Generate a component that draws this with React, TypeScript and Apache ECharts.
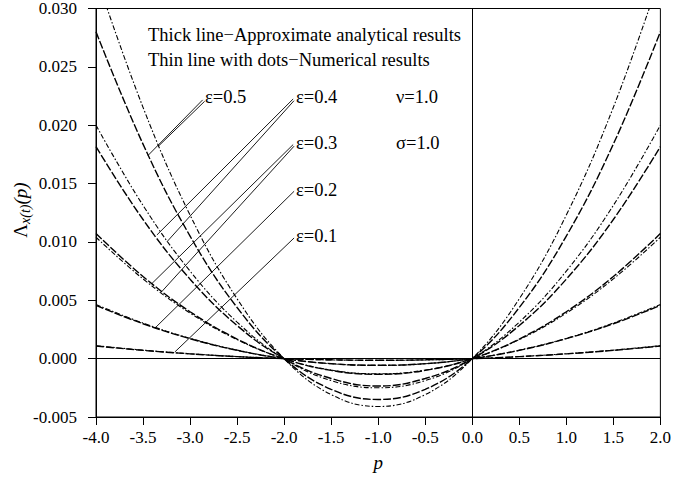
import React, { useEffect, useRef } from "react";
import * as echarts from "echarts";

const pValues = [-4.0, -3.5, -3.0, -2.5, -2.0, -1.5, -1.0, -0.5, 0.0, 0.5, 1.0, 1.5, 2.0];

// Thick line: approximate analytical results
const anaEps01 = [0.00108, 0.00071, 0.00041, 0.00017, 0, -0.0001, -0.00014, -0.0001, 0, 0.00017, 0.00041, 0.00071, 0.00108];
const anaEps02 = [0.00456, 0.00299, 0.00171, 0.00071, 0, -0.00043, -0.00057, -0.00043, 0, 0.00071, 0.00171, 0.00299, 0.00456];
const anaEps03 = [0.01072, 0.00704, 0.00402, 0.00168, 0, -0.00101, -0.00134, -0.00101, 0, 0.00168, 0.00402, 0.00704, 0.01072];
const anaEps04 = [0.01816, 0.01192, 0.00681, 0.00284, 0, -0.0017, -0.00235, -0.0017, 0, 0.00284, 0.00681, 0.01192, 0.01816];
const anaEps05 = [0.028, 0.01838, 0.0105, 0.00438, 0, -0.00263, -0.0035, -0.00263, 0, 0.00438, 0.0105, 0.01838, 0.028];

// Thin line with dots: numerical results
const numEps01 = [0.00111, 0.00073, 0.00042, 0.00018, 0, -0.00011, -0.00015, -0.00011, 0, 0.00018, 0.00042, 0.00073, 0.00111];
const numEps02 = [0.00464, 0.00305, 0.00174, 0.00073, 0, -0.00044, -0.00058, -0.00044, 0, 0.00073, 0.00174, 0.00305, 0.00464];
const numEps03 = [0.0104, 0.00683, 0.0039, 0.00163, 0, -0.00098, -0.0013, -0.00098, 0, 0.00163, 0.0039, 0.00683, 0.0104];
const numEps04 = [0.02, 0.01313, 0.0075, 0.00313, 0, -0.00188, -0.0025, -0.00188, 0, 0.00313, 0.0075, 0.01313, 0.02];
const numEps05 = [0.0328, 0.02153, 0.0123, 0.00513, 0, -0.00308, -0.0041, -0.00308, 0, 0.00513, 0.0123, 0.02153, 0.0328];

const epsLabels = ["ε=0.5", "ε=0.4", "ε=0.3", "ε=0.2", "ε=0.1"];
const paramLabels = ["ν=1.0", "σ=1.0"];
const noteLines = ["Thick line−Approximate analytical results", "Thin line with dots−Numerical results"];

// Leader lines (data coordinates): [start p, start value, end p, end value]
const leaders = [
  [-2.866, 0.02217, -3.447, 0.01741],
  [-2.845, 0.02205, -3.341, 0.01817],
  [-1.904, 0.02225, -3.352, 0.0106],
  [-1.895, 0.0221, -3.246, 0.01001],
  [-1.904, 0.01834, -3.405, 0.00644],
  [-1.895, 0.0182, -3.299, 0.00576],
  [-1.894, 0.01434, -3.373, 0.00262],
  [-1.894, 0.01034, -3.162, 0.00057],
];

const FONT = "Liberation Serif";

export default function App() {
  const ref = useRef<HTMLDivElement>(null);
  useEffect(() => {
    document.body.style.margin = "0";
    const chart = echarts.init(ref.current!, null, { renderer: "svg" });
    const pair = (arr: number[]) => pValues.map((p, i) => [p, arr[i]]);
    const anaStyle = { color: "#000", width: 1.4, type: [8, 2] };
    const numStyle = { color: "#000", width: 1.1, type: [5, 2, 1.5, 2] };
    const anaSeries = [anaEps01, anaEps02, anaEps03, anaEps04, anaEps05].map((d) => ({
      type: "line",
      data: pair(d),
      smooth: 0.4,
      showSymbol: false,
      lineStyle: anaStyle,
      silent: true,
    }));
    const numSeries = [numEps01, numEps02, numEps03, numEps04, numEps05].map((d) => ({
      type: "line",
      data: pair(d),
      smooth: 0.4,
      showSymbol: false,
      lineStyle: numStyle,
      silent: true,
    }));
    const refSeries = {
      type: "line",
      data: [],
      silent: true,
      markLine: {
        silent: true,
        symbol: ["none", "none"],
        label: { show: false },
        lineStyle: { color: "#000", width: 1, type: "solid" },
        data: [
          { xAxis: 0 },
          { yAxis: 0 },
          ...leaders.map((l) => [{ coord: [l[0], l[1]] }, { coord: [l[2], l[3]], lineStyle: { width: 0.9 } }]),
        ],
      },
    };
    const txt = (text: string, x: number, y: number, size = 18.5) => ({
      type: "text",
      x,
      y,
      style: { text, fontFamily: FONT, fontSize: size, fill: "#000", verticalAlign: "middle", align: "left" },
    });
    chart.setOption({
      animation: false,
      textStyle: { fontFamily: FONT, color: "#000" },
      grid: { left: 96, right: 11, top: 6, bottom: 63, show: true, borderColor: "#000", borderWidth: 1 },
      xAxis: {
        type: "value",
        min: -4,
        max: 2,
        interval: 0.5,
        name: "p",
        nameLocation: "middle",
        nameGap: 36,
        nameTextStyle: { fontFamily: FONT, fontSize: 19, fontStyle: "italic", color: "#000" },
        axisLine: { show: true, onZero: false, lineStyle: { color: "#000" } },
        axisTick: { show: true, inside: false, length: 8, lineStyle: { color: "#000" } },
        axisLabel: { fontFamily: FONT, fontSize: 17, color: "#000", margin: 12, formatter: (v: number) => v.toFixed(1) },
        splitLine: { show: false },
      },
      yAxis: {
        type: "value",
        min: -0.005,
        max: 0.03,
        interval: 0.005,
        axisLine: { show: true, onZero: false, lineStyle: { color: "#000" } },
        axisTick: { show: true, inside: false, length: 8, lineStyle: { color: "#000" } },
        axisLabel: { fontFamily: FONT, fontSize: 17, color: "#000", margin: 19, formatter: (v: number) => v.toFixed(3) },
        splitLine: { show: false },
      },
      series: [...anaSeries, ...numSeries, refSeries],
      graphic: [
        txt(noteLines[0], 148, 35),
        txt(noteLines[1], 148, 60),
        txt(epsLabels[0], 205, 97),
        txt(epsLabels[1], 296, 97),
        txt(epsLabels[2], 296, 143),
        txt(epsLabels[3], 296, 190),
        txt(epsLabels[4], 296, 236),
        txt(paramLabels[0], 396, 97),
        txt(paramLabels[1], 396, 143),
        {
          type: "text",
          x: 20,
          y: 210,
          rotation: Math.PI / 2,
          style: {
            text: "{a|Λ}{b|x(t)}{c|(p)}",
            align: "center",
            verticalAlign: "middle",
            fill: "#000",
            rich: {
              a: { fontFamily: FONT, fontSize: 19, fill: "#000" },
              b: { fontFamily: FONT, fontSize: 14, fontStyle: "italic", fill: "#000", padding: [10, 0, 0, 0] },
              c: { fontFamily: FONT, fontSize: 19, fontStyle: "italic", fill: "#000" },
            },
          },
        },
      ],
    });
    return () => chart.dispose();
  }, []);
  return <div ref={ref} style={{ width: 674, height: 480 }} />;
}
